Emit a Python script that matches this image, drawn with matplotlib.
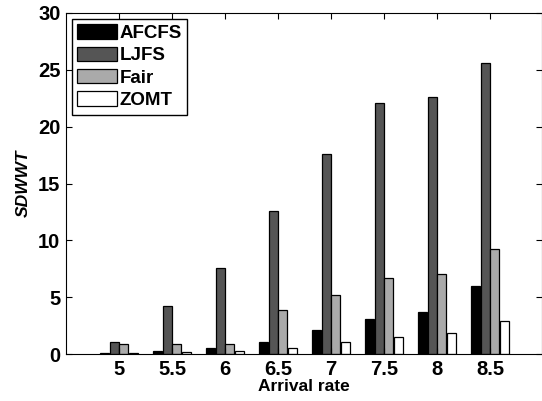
import numpy as np
import matplotlib
matplotlib.use("Agg")
import matplotlib.pyplot as plt

plt.rcParams["font.family"] = ["Liberation Sans", "DejaVu Sans"]

rates = ["5", "5.5", "6", "6.5", "7", "7.5", "8", "8.5"]
afcfs = [0.1, 0.26, 0.55, 1.05, 2.1, 3.08, 3.67, 6.0]
ljfs = [1.05, 4.2, 7.6, 12.6, 17.6, 22.07, 22.63, 25.6]
fair = [0.85, 0.85, 0.85, 3.84, 5.16, 6.71, 7.04, 9.26]
zomt = [0.1, 0.15, 0.3, 0.5, 1.03, 1.52, 1.85, 2.88]

series = [("AFCFS", afcfs, "#000000"),
          ("LJFS", ljfs, "#555555"),
          ("Fair", fair, "#aaaaaa"),
          ("ZOMT", zomt, "#ffffff")]

fig = plt.figure(figsize=(5.42, 4.01), dpi=100)
ax = fig.add_axes([66 / 542, 1 - 354 / 401, 476 / 542, 341 / 401])

x = np.arange(1, len(rates) + 1)
step = 0.18
for i, (name, vals, col) in enumerate(series):
    ax.bar(x + (i - 1.5) * step, vals, width=0.165, color=col,
           edgecolor="black", linewidth=0.9, label=name)

ax.set_xlim(0, 8.98)
ax.set_ylim(0, 30)
ax.set_xticks(x)
ax.set_xticklabels(rates)
ax.set_yticks(range(0, 31, 5))
ax.tick_params(direction="in", top=True, right=True, length=4,
               labelsize=14.5, pad=4)
for lbl in ax.get_xticklabels() + ax.get_yticklabels():
    lbl.set_fontweight("bold")

ax.set_xlabel("Arrival rate", fontsize=12.5, fontweight="bold", labelpad=0)
ax.set_ylabel("SDWWT", fontsize=12.5, style="italic", fontweight="bold",
              labelpad=5)

leg = ax.legend(loc="upper left", prop={"weight": "bold", "size": 13.5},
                fancybox=False, edgecolor="black", framealpha=1,
                handlelength=2.1, handleheight=0.8, handletextpad=0.15,
                labelspacing=0.25, borderpad=0.3, borderaxespad=0.3)
leg.get_frame().set_linewidth(1.0)

fig.savefig("out.png", dpi=100)
